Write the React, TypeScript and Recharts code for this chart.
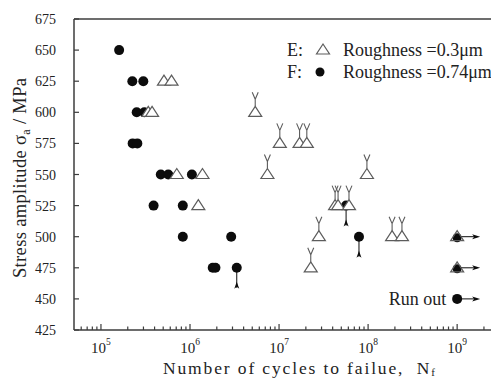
import React from 'react';
import { ReferenceLine, Scatter, ScatterChart, XAxis, YAxis } from 'recharts';

// cycles to failure (n) vs stress amplitude in MPa (s)
const eSurface = [
	{ n: 3.4e5, s: 600 }, { n: 3.75e5, s: 600 }, { n: 5.1e5, s: 625 }, { n: 6.2e5, s: 625 },
	{ n: 7.1e5, s: 550 }, { n: 1.38e6, s: 550 }, { n: 1.24e6, s: 525 },
];
const eInterior = [
	{ n: 5.4e6, s: 600 }, { n: 1.02e7, s: 575 }, { n: 1.7e7, s: 575 }, { n: 2.05e7, s: 575 },
	{ n: 7.4e6, s: 550 }, { n: 9.7e7, s: 550 }, { n: 4.26e7, s: 525 }, { n: 4.6e7, s: 525 },
	{ n: 6.1e7, s: 525 }, { n: 2.8e7, s: 500 }, { n: 1.86e8, s: 500 }, { n: 2.4e8, s: 500 },
	{ n: 2.27e7, s: 475 },
];
const fSurface = [
	{ n: 1.6e5, s: 650 }, { n: 2.25e5, s: 625 }, { n: 2.99e5, s: 625 }, { n: 2.52e5, s: 600 },
	{ n: 3.07e5, s: 600 }, { n: 2.27e5, s: 575 }, { n: 2.56e5, s: 575 }, { n: 4.7e5, s: 550 },
	{ n: 5.7e5, s: 550 }, { n: 1.05e6, s: 550 }, { n: 3.9e5, s: 525 }, { n: 8.3e5, s: 525 },
	{ n: 8.3e5, s: 500 }, { n: 2.9e6, s: 500 }, { n: 1.8e6, s: 475 }, { n: 1.93e6, s: 475 },
];
const fInterior = [{ n: 3.35e6, s: 475 }, { n: 5.66e7, s: 525 }, { n: 7.9e7, s: 500 }];
const eRunout = [{ n: 1e9, s: 500 }, { n: 1e9, s: 475 }];
const fRunout = [{ n: 1e9, s: 500 }, { n: 1e9, s: 475 }];
const runoutKey = [{ n: 1e9, s: 450 }];

const xDomain = [49800, 2.4e9];
const xTicks = [
	6e4, 7e4, 8e4, 9e4,
	1e5, 2e5, 3e5, 4e5, 5e5, 6e5, 7e5, 8e5, 9e5,
	1e6, 2e6, 3e6, 4e6, 5e6, 6e6, 7e6, 8e6, 9e6,
	1e7, 2e7, 3e7, 4e7, 5e7, 6e7, 7e7, 8e7, 9e7,
	1e8, 2e8, 3e8, 4e8, 5e8, 6e8, 7e8, 8e8, 9e8,
	1e9, 2e9,
];
const yTicks = [425, 450, 475, 500, 525, 550, 575, 600, 625, 650, 675];

const FONT = "'Liberation Serif', 'DejaVu Serif', serif";
const serif = { fontFamily: FONT };
const AXIS = '#3c3c3c';
const TRI = '#5c5c5c';
const DOT = '#0c0c0c';

const triPath = (cx: number, cy: number) => `M${cx},${cy - 6} L${cx + 6.5},${cy + 4} L${cx - 6.5},${cy + 4} Z`;

const XTick = (props: any) => {
	const { x, y, payload } = props;
	const lg = Math.log10(payload.value);
	const major = Math.abs(lg - Math.round(lg)) < 1e-6;
	return (
		<g>
			<line x1={x} x2={x} y1={y} y2={y - (major ? 6 : 3.5)} stroke={AXIS} strokeWidth={1.2} />
			{major && (
				<text x={x} y={y + 23} textAnchor="middle" style={serif} fontSize={15} fill="#222">
					10<tspan dy={-8} fontSize={9.5}>{Math.round(lg)}</tspan>
				</text>
			)}
		</g>
	);
};

const YTick = (props: any) => {
	const { x, y, payload } = props;
	return (
		<g>
			<line x1={x} x2={x + 5} y1={y} y2={y} stroke={AXIS} strokeWidth={1.2} />
			<text x={x - 18} y={y + 5} textAnchor="end" style={serif} fontSize={14} fill="#222">{payload.value}</text>
		</g>
	);
};

const Triangle = ({ cx, cy }: any) => <path d={triPath(cx, cy)} fill="#fff" stroke={TRI} strokeWidth={1.2} />;

const TriangleY = ({ cx, cy }: any) => (
	<g>
		<path d={`M${cx},${cy - 6} L${cx},${cy - 13} M${cx - 3},${cy - 20} L${cx},${cy - 13} L${cx + 3},${cy - 20}`} fill="none" stroke={TRI} strokeWidth={1.1} />
		<path d={triPath(cx, cy)} fill="#fff" stroke={TRI} strokeWidth={1.2} />
	</g>
);

const Dot = ({ cx, cy }: any) => <circle cx={cx} cy={cy} r={5} fill={DOT} />;

const DotArrow = ({ cx, cy }: any) => (
	<g>
		<line x1={cx} x2={cx} y1={cy} y2={cy + 20} stroke={DOT} strokeWidth={1} />
		<path d={`M${cx},${cy + 14} L${cx + 2.5},${cy + 21} L${cx},${cy + 19} L${cx - 2.5},${cy + 21} Z`} fill={DOT} />
		<circle cx={cx} cy={cy} r={5} fill={DOT} />
	</g>
);

const rightArrow = (cx: number, cy: number) => (
	<g>
		<line x1={cx} x2={cx + 20} y1={cy} y2={cy} stroke={DOT} strokeWidth={1} />
		<path d={`M${cx + 23},${cy} L${cx + 15},${cy - 2.5} L${cx + 17},${cy} L${cx + 15},${cy + 2.5} Z`} fill={DOT} />
	</g>
);

const DotRunout = ({ cx, cy }: any) => (
	<g>
		{rightArrow(cx, cy)}
		<circle cx={cx} cy={cy + 1} r={4.5} fill={DOT} />
	</g>
);

const TriRunout = ({ cx, cy }: any) => <path d={triPath(cx, cy)} fill="none" stroke={TRI} strokeWidth={1.2} />;

const RunoutKey = ({ cx, cy }: any) => (
	<g>
		{rightArrow(cx, cy)}
		<circle cx={cx} cy={cy} r={5} fill={DOT} />
		<text x={cx - 11} y={cy + 6} textAnchor="end" style={serif} fontSize={18} fill="#222">Run out</text>
	</g>
);

export default function App() {
	return (
		<div style={{ position: 'absolute', left: 0, top: 0, width: 491, height: 380, background: '#fff', overflow: 'hidden' }}>
			<ScatterChart width={491} height={380} margin={{ top: 19, right: 0, bottom: 20, left: 14 }}>
				<XAxis
					dataKey="n"
					type="number"
					scale="log"
					domain={xDomain}
					ticks={xTicks}
					interval={0}
					allowDataOverflow
					height={30}
					tickSize={0}
					tickMargin={0}
					tick={<XTick />}
					axisLine={{ stroke: AXIS, strokeWidth: 1.5 }}
				/>
				<YAxis
					dataKey="s"
					type="number"
					domain={[425, 675]}
					ticks={yTicks}
					interval={0}
					width={60}
					tickSize={0}
					tickMargin={0}
					tick={<YTick />}
					axisLine={{ stroke: AXIS, strokeWidth: 1.5 }}
				/>
				<ReferenceLine y={675} stroke={AXIS} strokeWidth={1.5} />
				<Scatter data={fSurface} shape={<Dot />} isAnimationActive={false} />
				<Scatter data={fInterior} shape={<DotArrow />} isAnimationActive={false} />
				<Scatter data={fRunout} shape={<DotRunout />} isAnimationActive={false} />
				<Scatter data={eSurface} shape={<Triangle />} isAnimationActive={false} />
				<Scatter data={eInterior} shape={<TriangleY />} isAnimationActive={false} />
				<Scatter data={eRunout} shape={<TriRunout />} isAnimationActive={false} />
				<Scatter data={runoutKey} shape={<RunoutKey />} isAnimationActive={false} />
			</ScatterChart>
			<svg width={491} height={380} style={{ position: 'absolute', left: 0, top: 0, pointerEvents: 'none' }}>
				<g style={serif} fill="#222">
					<text x={287} y={56} fontSize={18}>E:</text>
					<path d={triPath(323, 50)} fill="#fff" stroke={TRI} strokeWidth={1.2} />
					<text x={343} y={56} fontSize={18}>Roughness =0.3μm</text>
					<text x={287} y={78} fontSize={18}>F:</text>
					<circle cx={320} cy={72} r={4.5} fill={DOT} />
					<text x={343} y={78} fontSize={18}>Roughness =0.74μm</text>
					<text x={163} y={374} fontSize={17.5} textLength={272} lengthAdjust="spacing">
						Number of cycles to failue,{'\u00a0\u00a0'}N<tspan dy={2} fontSize={11}>f</tspan>
					</text>
					<text transform="translate(26,178) rotate(-90)" fontSize={18.5} textAnchor="middle" textLength={200} lengthAdjust="spacing">
						Stress amplitude σ<tspan dy={4} fontSize={12}>a</tspan><tspan dy={-4}> / MPa</tspan>
					</text>
				</g>
			</svg>
		</div>
	);
}
